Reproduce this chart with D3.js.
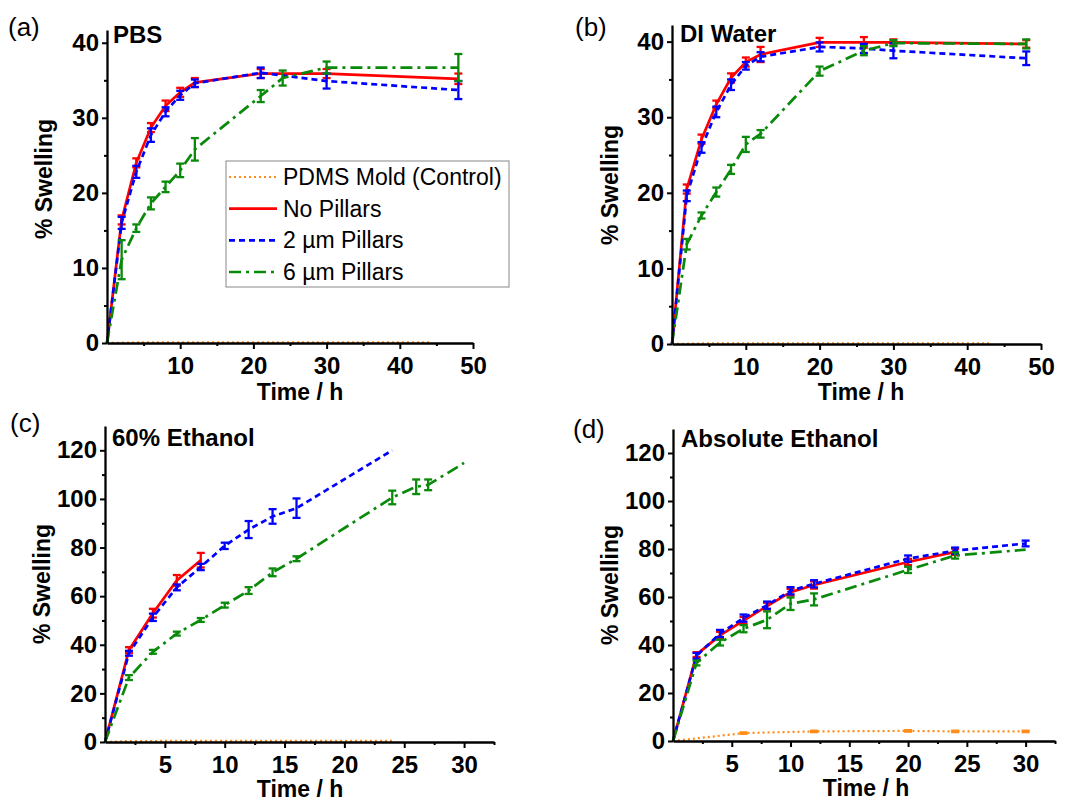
<!DOCTYPE html>
<html>
<head>
<meta charset="utf-8">
<script src="https://cdn.jsdelivr.net/npm/d3@7"></script>
<style>
  body { margin: 0; background: #fff; }
  svg { font-family: "Liberation Sans", Arial, sans-serif; }
</style>
</head>
<body>
<script>
// ---- data ----
const seriesNames = ['PDMS Mold (Control)', 'No Pillars', '2 \u00b5m Pillars', '6 \u00b5m Pillars'];

// (a) PBS
const pbsCtrlT = [0, 5.5, 17.5, 24.5, 30.5, 44];
const pbsCtrl = [0, 0.1, 0.1, 0.1, 0.1, 0.1];
const pbsT = [0, 2, 4, 6, 8, 10, 12, 21, 30, 48];
const pbsNo = [0, 16.4, 24, 28.7, 31.6, 33.4, 34.7, 35.9, 35.9, 35.2];
const pbsNoErr = [0, 0.6, 0.6, 0.6, 0.7, 0.6, 0.6, 0.6, 0.6, 0.7];
const pbs2 = [0, 16, 22.8, 27.7, 30.8, 33, 34.6, 36, 34.9, 33.7];
const pbs2Err = [0, 0.8, 0.8, 0.9, 0.6, 0.6, 0.5, 0.7, 1.0, 1.2];
const pbs6T = [0, 2, 4, 6, 8, 10, 12, 21, 24, 30, 48];
const pbs6 = [0, 11.1, 15.3, 18.6, 20.8, 23, 25.8, 32.9, 35.3, 36.7, 36.7];
const pbs6Err = [0, 2.6, 0.5, 0.8, 0.7, 0.9, 1.5, 0.8, 1.0, 0.8, 1.8];

// (b) DI Water
const diCtrlT = [0, 6, 18, 26, 34, 43];
const diCtrl = [0, 0.1, 0.1, 0.1, 0.1, 0.1];
const diT = [0, 2, 4, 6, 8, 10, 12, 20, 26, 30, 48];
const diNo = [0, 20.5, 27.1, 31.7, 35.2, 37.3, 38.3, 39.9, 39.9, 39.9, 39.7];
const diNoErr = [0, 0.6, 0.6, 0.5, 0.6, 0.6, 1.0, 0.6, 0.7, 0.4, 0.5];
const di2 = [0, 19.6, 26, 30.7, 34.3, 36.8, 38, 39.3, 39.1, 38.8, 37.8];
const di2Err = [0, 0.7, 0.7, 0.7, 0.7, 0.5, 0.6, 0.6, 0.6, 1.0, 0.9];
const di6 = [0, 13.2, 17, 20.1, 23.1, 26.4, 27.8, 36.1, 38.8, 39.8, 39.7];
const di6Err = [0, 0.7, 0.4, 0.6, 0.6, 1.0, 0.5, 0.6, 0.6, 0.4, 0.6];

// (c) 60% Ethanol
const e60CtrlT = [0, 2, 4, 6, 8, 12, 17.5, 24];
const e60Ctrl = [0, 0.4, 0.4, 0.5, 0.5, 0.5, 0.5, 0.5];
const e60NoT = [0, 2, 4, 6, 8];
const e60No = [0, 37.8, 53, 66.5, 74.8];
const e60NoErr = [0, 1.2, 1.8, 2.2, 3.0];
const e60_2T = [0, 2, 4, 6, 8, 10, 12, 14, 16, 24];
const e60_2 = [0, 36.5, 51.3, 63.6, 72, 80.7, 87.4, 92.8, 96.2, 120];
const e60_2Err = [0, 1, 1.5, 1.2, 1.3, 1.3, 3.5, 3, 4, 0];
const e60_6T = [0, 2, 4, 6, 8, 10, 12, 14, 16, 24, 26, 27, 30];
const e60_6 = [0, 26.5, 37.1, 44.6, 50.2, 56.3, 62.3, 69.8, 75.4, 100.6, 105, 105.8, 114.8];
const e60_6Err = [0, 1, 0.8, 0.8, 0.8, 1, 1.4, 1.6, 1, 2.8, 3, 2.2, 0];

// (d) Absolute Ethanol
const absCtrlT = [0, 6, 12, 20, 24, 30];
const absCtrl = [0, 3.3, 4, 4.2, 4, 4];
const absCtrlErr = [0, 0.3, 0.3, 0.3, 0.3, 0.3];
const absNoT = [0, 2, 4, 6, 8, 10, 12, 20, 24];
const absNo = [0, 36, 44, 50.2, 56.2, 62, 65, 74.6, 78.8];
const absNoErr = [0, 1, 1.5, 1.5, 1.4, 1.4, 1.5, 1.3, 1.3];
const absT = [0, 2, 4, 6, 8, 10, 12, 20, 24, 30];
const abs2 = [0, 35.5, 44.8, 51.2, 56.6, 62.6, 65.5, 76, 79.3, 82.3];
const abs2Err = [0, 1.2, 1.5, 1.5, 1.5, 1.5, 1.5, 1.3, 1.3, 1.2];
const abs6 = [0, 32.5, 41, 46.8, 50.5, 57.2, 59, 71.3, 77.3, 79.7];
const abs6Err = [0, 1, 1.2, 1.5, 3.5, 2.6, 2.5, 1.3, 1.3, 0];

// ticks
const ticks40 = [0, 10, 20, 30, 40];
const minor40 = [5, 15, 25, 35];
const ticksT50 = [10, 20, 30, 40, 50];
const minorT50 = [5, 15, 25, 35, 45];
const ticks120 = [0, 20, 40, 60, 80, 100, 120];
const minor120 = [10, 30, 50, 70, 90, 110];
const ticksT30 = [5, 10, 15, 20, 25, 30];
const minorT30 = [2.5, 7.5, 12.5, 17.5, 22.5, 27.5, 32.5];

const styles = [
  {color: '#ff8c1a', dash: '2,3', width: 2.2},
  {color: '#ff0000', dash: null, width: 2.7},
  {color: '#0000ff', dash: '6,4', width: 2.7},
  {color: '#0a8a0a', dash: '12,5,3,5', width: 2.7}
];

const zip = (t, v, e) => t.map((d, i) => ({t: d, v: v[i], e: e ? e[i] : 0}));

const svg = d3.select('body').append('svg')
  .attr('width', 1068).attr('height', 801);
svg.append('rect').attr('width', 1068).attr('height', 801).attr('fill', '#fff');

function drawPanel(p) {
  const x = d3.scaleLinear().domain(p.xDomain).range([p.left, p.right]);
  const y = d3.scaleLinear().domain(p.yDomain).range([p.bottom, p.top]);

  const line = d3.line().x(d => x(d.t)).y(d => y(d.v));

  p.series.forEach((s, i) => {
    const st = styles[i];
    svg.append('path')
      .datum(s)
      .attr('d', line)
      .attr('fill', 'none')
      .attr('stroke', st.color)
      .attr('stroke-width', st.width)
      .attr('stroke-dasharray', st.dash);

    const eb = svg.append('g').attr('stroke', st.color).attr('stroke-width', 2.3);
    s.filter(d => d.e > 0).forEach(d => {
      const y1 = y(d.v - d.e), y2 = y(d.v + d.e), cx = x(d.t);
      eb.append('line').attr('x1', cx).attr('x2', cx).attr('y1', y1).attr('y2', y2);
      eb.append('line').attr('x1', cx - 4).attr('x2', cx + 4).attr('y1', y1).attr('y2', y1);
      eb.append('line').attr('x1', cx - 4).attr('x2', cx + 4).attr('y1', y2).attr('y2', y2);
    });
  });

  const xAxis = svg.append('g')
    .attr('transform', `translate(0, ${p.bottom})`)
    .call(d3.axisBottom(x).tickValues(p.xTicks).tickSize(6).tickSizeOuter(0).tickPadding(8));
  svg.append('g')
    .attr('transform', `translate(0, ${p.bottom})`)
    .call(d3.axisBottom(x).tickValues(p.xMinor).tickSize(3).tickFormat(''))
    .call(g => g.select('.domain').remove());

  const yAxis = svg.append('g')
    .attr('transform', `translate(${p.left}, 0)`)
    .call(d3.axisLeft(y).tickValues(p.yTicks).tickSize(5).tickSizeOuter(0).tickPadding(3));
  svg.append('g')
    .attr('transform', `translate(${p.left}, 0)`)
    .call(d3.axisLeft(y).tickValues(p.yMinor).tickSize(3).tickFormat(''))
    .call(g => g.select('.domain').remove());

  svg.selectAll('.domain').attr('stroke', '#000').attr('stroke-width', 2.3);
  svg.selectAll('.tick line').attr('stroke', '#000').attr('stroke-width', 2);
  [xAxis, yAxis].forEach(a => a.selectAll('text')
    .attr('font-family', '"Liberation Sans", Arial, sans-serif')
    .attr('font-size', 24).attr('font-weight', 'bold').attr('fill', '#000'));

  svg.append('text')
    .attr('x', p.xTitle[0]).attr('y', p.xTitle[1])
    .attr('text-anchor', 'middle')
    .attr('font-size', 23).attr('font-weight', 'bold')
    .text('Time / h');

  svg.append('text')
    .attr('transform', `translate(${p.yTitle[0]}, ${p.yTitle[1]}) rotate(-90)`)
    .attr('text-anchor', 'middle')
    .attr('font-size', 23).attr('font-weight', 'bold')
    .text('% Swelling');

  svg.append('text')
    .attr('x', p.title[0]).attr('y', p.title[1])
    .attr('font-size', 24).attr('font-weight', 'bold')
    .text(p.name);

  svg.append('text')
    .attr('x', p.tag[0]).attr('y', p.tag[1])
    .attr('font-size', 26)
    .text(p.label);
}

drawPanel({
  label: '(a)', name: 'PBS',
  left: 107, right: 473, top: 30, bottom: 343,
  xDomain: [0, 50], yDomain: [0, 41.7],
  xTicks: ticksT50, xMinor: minorT50, yTicks: ticks40, yMinor: minor40,
  xTitle: [300, 400], yTitle: [52, 179], title: [113, 43], tag: [8, 36],
  series: [zip(pbsCtrlT, pbsCtrl), zip(pbsT, pbsNo, pbsNoErr), zip(pbsT, pbs2, pbs2Err), zip(pbs6T, pbs6, pbs6Err)]
});

drawPanel({
  label: '(b)', name: 'DI Water',
  left: 672, right: 1041, top: 25, bottom: 344,
  xDomain: [0, 50], yDomain: [0, 42.2],
  xTicks: ticksT50, xMinor: minorT50, yTicks: ticks40, yMinor: minor40,
  xTitle: [861, 400], yTitle: [618, 185], title: [680, 42], tag: [575, 36],
  series: [zip(diCtrlT, diCtrl), zip(diT, diNo, diNoErr), zip(diT, di2, di2Err), zip(diT, di6, di6Err)]
});

drawPanel({
  label: '(c)', name: '60% Ethanol',
  left: 105, right: 494, top: 426, bottom: 742,
  xDomain: [0, 32.5], yDomain: [0, 130],
  xTicks: ticksT30, xMinor: minorT30, yTicks: ticks120, yMinor: minor120,
  xTitle: [300, 797], yTitle: [50, 584], title: [112, 446], tag: [10, 432],
  series: [zip(e60CtrlT, e60Ctrl), zip(e60NoT, e60No, e60NoErr), zip(e60_2T, e60_2, e60_2Err), zip(e60_6T, e60_6, e60_6Err)]
});

drawPanel({
  label: '(d)', name: 'Absolute Ethanol',
  left: 673, right: 1055, top: 429, bottom: 741,
  xDomain: [0, 32.5], yDomain: [0, 130],
  xTicks: ticksT30, xMinor: minorT30, yTicks: ticks120, yMinor: minor120,
  xTitle: [866, 796], yTitle: [618, 585], title: [681, 447], tag: [573, 438],
  series: [zip(absCtrlT, absCtrl, absCtrlErr), zip(absNoT, absNo, absNoErr), zip(absT, abs2, abs2Err), zip(absT, abs6, abs6Err)]
});

// legend in panel (a)
const legend = svg.append('g');
legend.append('rect')
  .attr('x', 226).attr('y', 161).attr('width', 283).attr('height', 126)
  .attr('fill', '#fff').attr('stroke', '#888').attr('stroke-width', 1);
const rowY = d3.scalePoint().domain(seriesNames).range([177, 272]);
seriesNames.forEach((n, i) => {
  const st = styles[i];
  legend.append('line')
    .attr('x1', 229).attr('x2', 277).attr('y1', rowY(n)).attr('y2', rowY(n))
    .attr('stroke', st.color).attr('stroke-width', st.width)
    .attr('stroke-dasharray', st.dash);
  legend.append('text')
    .attr('x', 283).attr('y', rowY(n) + 8)
    .attr('font-size', 23)
    .text(n);
});
</script>
</body>
</html>
